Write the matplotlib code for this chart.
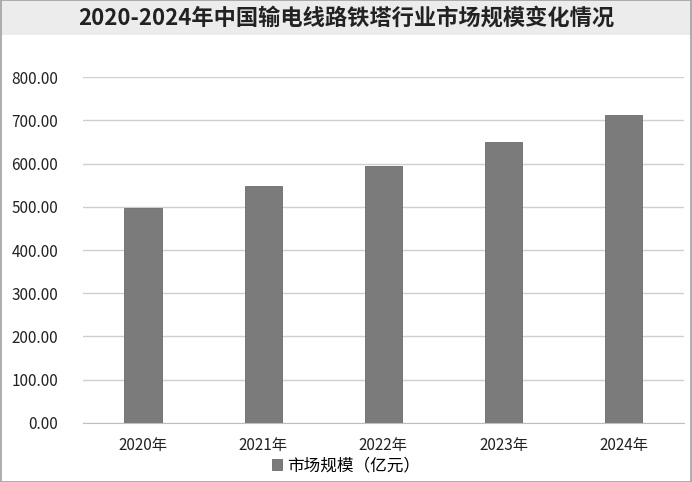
import matplotlib.pyplot as plt
from matplotlib.patches import Rectangle

plt.rcParams['font.family'] = ['Noto Sans CJK SC', 'DejaVu Sans']

# data
years = ['2020年', '2021年', '2022年', '2023年', '2024年']
market_size = [498, 548, 595, 651, 712]
yticks = [0, 100, 200, 300, 400, 500, 600, 700, 800]

fig = plt.figure(figsize=(6.92, 4.82), dpi=100)
fig.patch.set_facecolor('white')

# grey title band and thin frame
fig.patches.append(Rectangle((0, 0.928), 1, 0.072, transform=fig.transFigure,
                             facecolor='#ececec', edgecolor='none', zorder=0))
fig.patches.append(Rectangle((0.001, 0.001), 0.998, 0.998, transform=fig.transFigure,
                             facecolor='none', edgecolor='#a0a0a0', linewidth=1.2, zorder=5))
fig.text(0.5, 0.963, '2020-2024年中国输电线路铁塔行业市场规模变化情况',
         ha='center', va='center', fontsize=16, fontweight='bold', color='#222222')

ax = fig.add_axes([0.12, 0.123, 0.868, 0.7166])
x = list(range(len(years)))
bars = ax.bar(x, market_size, width=0.31, color='#7b7b7b', edgecolor='#6a6a6a',
              linewidth=0.6, label='市场规模（亿元）', zorder=3)

ax.set_xlim(-0.5, len(years) - 0.5)
ax.set_ylim(0, 800)
ax.set_yticks(yticks)
ax.set_yticklabels(['%.2f' % v for v in yticks], fontsize=11, color='#222222')
ax.set_xticks(x)
ax.set_xticklabels(years, fontsize=11, color='#222222')
ax.tick_params(length=0, pad=10)
ax.tick_params(axis='y', pad=18)

ax.grid(axis='y', color='#cfcfcf', linewidth=1, zorder=0)
for s in ['top', 'right', 'left']:
    ax.spines[s].set_visible(False)
ax.spines['bottom'].set_color('#bfbfbf')

fig.legend(handles=[bars], labels=['市场规模（亿元）'], loc='center',
           bbox_to_anchor=(0.5, 0.033), frameon=False, fontsize=12,
           handlelength=0.6, handleheight=0.6, handletextpad=0.3)

fig.savefig('out.png', dpi=100)
